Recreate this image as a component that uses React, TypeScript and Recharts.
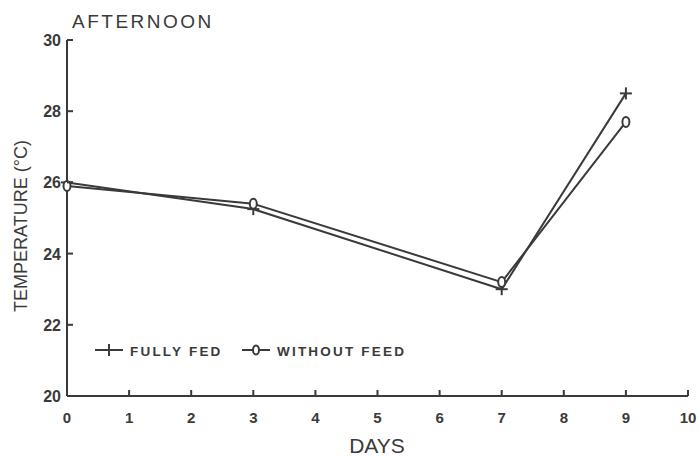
import { LineChart, Line, XAxis, YAxis } from "recharts";

const days = [0, 3, 7, 9];
const fullyFed = [26.0, 25.25, 23.0, 28.5];
const withoutFeed = [25.9, 25.4, 23.2, 27.7];
const xTicks = [0, 1, 2, 3, 4, 5, 6, 7, 8, 9, 10];
const yTicks = [20, 22, 24, 26, 28, 30];

const data = days.map((d, i) => ({
  day: d,
  fed: fullyFed[i],
  nofeed: withoutFeed[i],
}));

const INK = "#3a3a3a";
const FONT = "'Liberation Sans', Arial, sans-serif";

const PlusDot = (props: any) => {
  const { cx, cy } = props;
  if (cx == null || cy == null) return null;
  return (
    <g stroke={INK} strokeWidth={2}>
      <line x1={cx - 6} y1={cy} x2={cx + 6} y2={cy} />
      <line x1={cx} y1={cy - 6} x2={cx} y2={cy + 6} />
    </g>
  );
};

const DiamondDot = (props: any) => {
  const { cx, cy } = props;
  if (cx == null || cy == null) return null;
  return <ellipse cx={cx} cy={cy} rx={3.5} ry={5} fill="#fff" stroke={INK} strokeWidth={2} />;
};

const XTick = (props: any) => {
  const { x, y, payload } = props;
  return (
    <g>
      <line x1={x} y1={y} x2={x} y2={y - 6} stroke={INK} strokeWidth={2} />
      <text x={x} y={y + 27} textAnchor="middle" fill={INK} fontSize={15} fontWeight="bold" fontFamily={FONT}>
        {payload.value}
      </text>
    </g>
  );
};

const YTick = (props: any) => {
  const { x, y, payload } = props;
  return (
    <g>
      <line x1={x} y1={y} x2={x + 6} y2={y} stroke={INK} strokeWidth={2} />
      <text x={x - 6} y={y + 6} textAnchor="end" fill={INK} fontSize={16} fontWeight="bold" fontFamily={FONT}>
        {payload.value}
      </text>
    </g>
  );
};

const legendText = { fill: INK, fontSize: 13.5, fontWeight: "bold", fontFamily: FONT, letterSpacing: 2.2 } as const;

export default function App() {
  return (
    <div style={{ position: "absolute", left: 0, top: 0, background: "#fff" }}>
      <LineChart width={699} height={456} data={data} margin={{ top: 40, right: 11, left: 0, bottom: 0 }}>
        <text x={72} y={28} fill={INK} fontSize={19} fontFamily={FONT} letterSpacing={2.5}>
          AFTERNOON
        </text>
        <text
          x={21}
          y={226}
          transform="rotate(-90, 21, 226)"
          textAnchor="middle"
          dominantBaseline="central"
          fill={INK}
          fontSize={18}
          fontFamily={FONT}
        >
          TEMPERATURE (°C)
        </text>
        <text x={377} y={453} textAnchor="middle" fill={INK} fontSize={21} fontFamily={FONT}>
          DAYS
        </text>
        <g>
          <g stroke={INK} strokeWidth={2}>
            <line x1={95} y1={350} x2={123} y2={350} />
            <line x1={109} y1={344} x2={109} y2={356} />
            <line x1={242} y1={350} x2={270} y2={350} />
          </g>
          <ellipse cx={256} cy={350} rx={3} ry={4.5} fill="#fff" stroke={INK} strokeWidth={2} />
          <text x={130} y={356} {...legendText}>
            FULLY FED
          </text>
          <text x={277} y={356} {...legendText}>
            WITHOUT FEED
          </text>
        </g>
        <XAxis
          dataKey="day"
          type="number"
          domain={[0, 10]}
          ticks={xTicks}
          height={60}
          tickSize={0}
          tickMargin={0}
          tickLine={false}
          tick={<XTick />}
          axisLine={{ stroke: INK, strokeWidth: 2 }}
          interval={0}
        />
        <YAxis
          type="number"
          domain={[20, 30]}
          ticks={yTicks}
          width={67}
          tickSize={0}
          tickMargin={0}
          tickLine={false}
          tick={<YTick />}
          axisLine={{ stroke: INK, strokeWidth: 2 }}
          interval={0}
        />
        <Line dataKey="fed" stroke={INK} strokeWidth={2} dot={<PlusDot />} isAnimationActive={false} legendType="none" />
        <Line dataKey="nofeed" stroke={INK} strokeWidth={2} dot={<DiamondDot />} isAnimationActive={false} legendType="none" />
      </LineChart>
    </div>
  );
}
